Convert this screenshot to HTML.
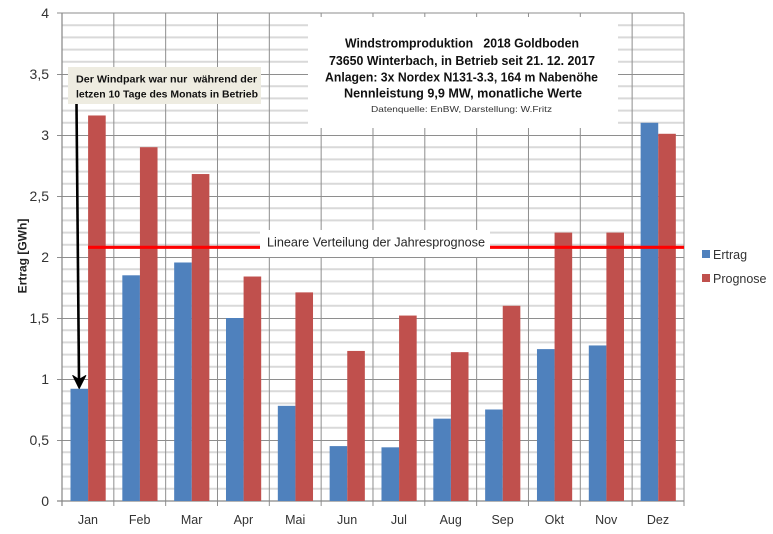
<!DOCTYPE html>
<html>
<head>
<meta charset="utf-8">
<style>
html,body{margin:0;padding:0;background:#fff;}
svg{display:block;}
text{font-family:"Liberation Sans",Arial,sans-serif;}
</style>
</head>
<body>
<svg width="773" height="534" viewBox="0 0 773 534" xmlns="http://www.w3.org/2000/svg">
<rect x="0" y="0" width="773" height="534" fill="#fff"/>
<!-- minor gridlines -->
<path stroke="#d9d9d9" stroke-width="2" fill="none" d="
M62 488.8H684 M62 476.6H684 M62 464.4H684 M62 452.2H684
M62 427.8H684 M62 415.6H684 M62 403.4H684 M62 391.2H684
M62 366.8H684 M62 354.6H684 M62 342.4H684 M62 330.2H684
M62 305.8H684 M62 293.6H684 M62 281.4H684 M62 269.2H684
M62 244.8H684 M62 232.6H684 M62 220.4H684 M62 208.2H684
M62 183.8H684 M62 171.6H684 M62 159.4H684 M62 147.2H684
M62 122.8H684 M62 110.6H684 M62 98.4H684 M62 86.2H684
M62 61.8H684 M62 49.6H684 M62 37.4H684 M62 25.2H684"/>
<!-- major gridlines -->
<path stroke="#8e8e8e" stroke-width="1" fill="none" d="
M57 440.5H684 M57 379.5H684 M57 318.5H684 M57 257.5H684
M57 196.5H684 M57 135.5H684 M57 74.5H684 M57 13H684"/>
<!-- vertical gridlines -->
<path stroke="#8e8e8e" stroke-width="1" fill="none" d="
M113.83 13V506 M165.66 13V506 M217.49 13V506 M269.32 13V506
M321.15 13V506 M372.98 13V506 M424.81 13V506 M476.64 13V506
M528.47 13V506 M580.3 13V506 M632.13 13V506 M684 13V506"/>
<!-- axes -->
<line x1="62" y1="13" x2="62" y2="506" stroke="#868686" stroke-width="1.2"/>
<line x1="57" y1="501" x2="684" y2="501" stroke="#868686" stroke-width="1.2"/>

<!-- Ertrag bars -->
<g fill="#4f81bd">
<rect x="70.5" y="388.76" width="17.6" height="112.24"/>
<rect x="122.33" y="275.3" width="17.6" height="225.7"/>
<rect x="174.16" y="262.49" width="17.6" height="238.51"/>
<rect x="225.99" y="318" width="17.6" height="183"/>
<rect x="277.82" y="405.84" width="17.6" height="95.16"/>
<rect x="329.65" y="446.1" width="17.6" height="54.9"/>
<rect x="381.48" y="447.32" width="17.6" height="53.68"/>
<rect x="433.31" y="418.65" width="17.6" height="82.35"/>
<rect x="485.14" y="409.5" width="17.6" height="91.5"/>
<rect x="536.97" y="349.11" width="17.6" height="151.89"/>
<rect x="588.8" y="345.45" width="17.6" height="155.55"/>
<rect x="640.63" y="122.8" width="17.6" height="378.2"/>
</g>
<!-- Prognose bars -->
<g fill="#c0504d">
<rect x="88.1" y="115.48" width="17.6" height="385.52"/>
<rect x="139.93" y="147.2" width="17.6" height="353.8"/>
<rect x="191.76" y="174.04" width="17.6" height="326.96"/>
<rect x="243.59" y="276.52" width="17.6" height="224.48"/>
<rect x="295.42" y="292.38" width="17.6" height="208.62"/>
<rect x="347.25" y="350.94" width="17.6" height="150.06"/>
<rect x="399.08" y="315.56" width="17.6" height="185.44"/>
<rect x="450.91" y="352.16" width="17.6" height="148.84"/>
<rect x="502.74" y="305.8" width="17.6" height="195.2"/>
<rect x="554.57" y="232.6" width="17.6" height="268.4"/>
<rect x="606.4" y="232.6" width="17.6" height="268.4"/>
<rect x="658.23" y="133.78" width="17.6" height="367.22"/>
</g>

<!-- red linear line -->
<line x1="88" y1="247.3" x2="684" y2="247.3" stroke="#ff0000" stroke-width="3.2"/>
<rect x="260" y="230" width="230" height="27" fill="#fff"/>
<text x="267" y="246.5" font-size="13" fill="#262626" textLength="218" lengthAdjust="spacingAndGlyphs">Lineare Verteilung der Jahresprognose</text>

<!-- title box -->
<rect x="308" y="17" width="310" height="111" fill="#fff"/>
<g font-weight="bold" fill="#111" font-size="12.5">
<text x="345" y="47.5" textLength="234" lengthAdjust="spacingAndGlyphs" style="white-space:pre">Windstromproduktion   2018 Goldboden</text>
<text x="329" y="65" textLength="266" lengthAdjust="spacingAndGlyphs">73650 Winterbach, in Betrieb seit 21. 12. 2017</text>
<text x="325" y="81.5" textLength="273" lengthAdjust="spacingAndGlyphs">Anlagen: 3x Nordex N131-3.3, 164 m Nabenöhe</text>
<text x="344" y="97.5" textLength="238" lengthAdjust="spacingAndGlyphs">Nennleistung 9,9 MW, monatliche Werte</text>
</g>
<text x="371" y="112" font-size="8.5" fill="#333" textLength="181" lengthAdjust="spacingAndGlyphs">Datenquelle: EnBW, Darstellung: W.Fritz</text>

<!-- annotation box -->
<rect x="68" y="67" width="193" height="37" fill="#eeece1"/>
<g font-weight="bold" fill="#111" font-size="10.5">
<text x="76" y="82.5" textLength="181" lengthAdjust="spacingAndGlyphs" style="white-space:pre">Der Windpark war nur  während der</text>
<text x="76" y="97.5" textLength="182" lengthAdjust="spacingAndGlyphs">letzen 10 Tage des Monats in Betrieb</text>
</g>
<!-- arrow -->
<line x1="76.5" y1="104" x2="79" y2="380" stroke="#000" stroke-width="2.6"/>
<polygon points="79.2,388.5 72.8,375.5 79,379.5 85.8,375.5" fill="#000" stroke="#000" stroke-width="1" stroke-linejoin="round"/>

<!-- y labels -->
<g font-size="14" fill="#333" text-anchor="end">
<text x="49" y="18">4</text>
<text x="49" y="79">3,5</text>
<text x="49" y="140">3</text>
<text x="49" y="201">2,5</text>
<text x="49" y="262">2</text>
<text x="49" y="323">1,5</text>
<text x="49" y="384">1</text>
<text x="49" y="445">0,5</text>
<text x="49" y="506">0</text>
</g>
<text transform="translate(26.5,256) rotate(-90)" text-anchor="middle" font-size="12" font-weight="bold" fill="#222">Ertrag [GWh]</text>

<!-- x labels -->
<g font-size="12.5" fill="#333" text-anchor="middle">
<text x="87.9" y="524">Jan</text>
<text x="139.7" y="524">Feb</text>
<text x="191.6" y="524">Mar</text>
<text x="243.4" y="524">Apr</text>
<text x="295.2" y="524">Mai</text>
<text x="347.1" y="524">Jun</text>
<text x="398.9" y="524">Jul</text>
<text x="450.7" y="524">Aug</text>
<text x="502.6" y="524">Sep</text>
<text x="554.4" y="524">Okt</text>
<text x="606.2" y="524">Nov</text>
<text x="658" y="524">Dez</text>
</g>

<!-- legend -->
<rect x="702" y="250" width="8" height="8" fill="#4f81bd"/>
<text x="713" y="259" font-size="12.5" fill="#333">Ertrag</text>
<rect x="702" y="274" width="8" height="8" fill="#c0504d"/>
<text x="713" y="283" font-size="12.5" fill="#333">Prognose</text>
</svg>
</body>
</html>
